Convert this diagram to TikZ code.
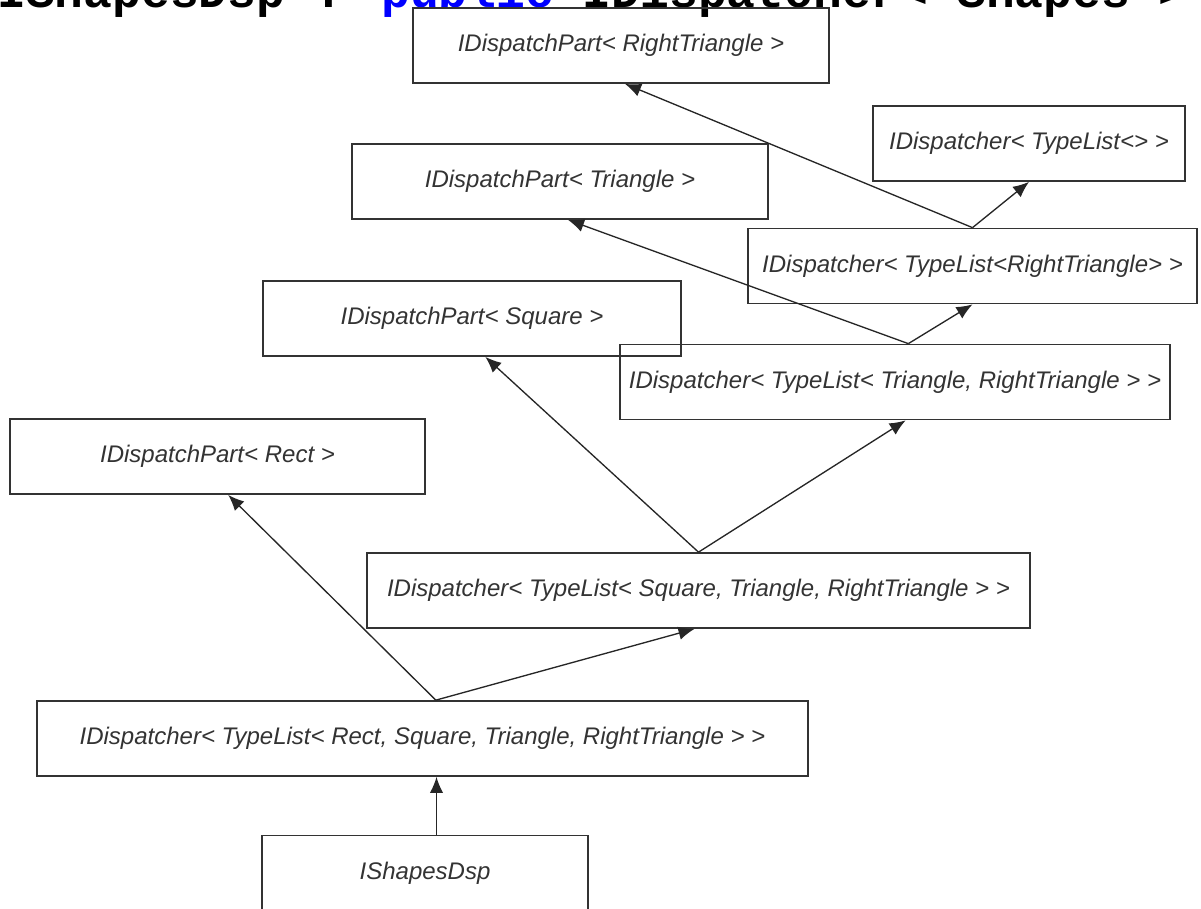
\documentclass[tikz,border=0pt]{standalone}
\usepackage{fontspec}
\setmainfont{Liberation Sans}
\newfontfamily\headfont{Liberation Mono}
\usepackage[svgnames]{xcolor}
\usetikzlibrary{arrows.meta}
\colorlet{boxLine}{black!80}
\colorlet{boxText}{black!80}
\colorlet{linkText}{Blue}

\begin{document}
\begin{tikzpicture}[
  x=0.75pt, y=-0.75pt,
  every class/.style={
    draw=boxLine,
    line width=1.3pt,
    text=boxText,
    minimum height=56.25pt,
    inner sep=0pt,
    font=\fontsize{18}{21}\selectfont\itshape
  },
  every base/.style={
    -{Latex[length=12pt,width=10pt]},
    line width=1pt,
    draw=black!85
  }
]
\useasboundingbox (0,0) rectangle (1201,908);
\begin{scope}
\clip (0,0) rectangle (1201,908);
\node[anchor=base west,inner sep=0pt,font=\headfont\bfseries\fontsize{36}{40}\selectfont] (head) at (-3,7.5)
  {IShapesDsp : \textcolor{linkText}{public} IDispatcher< Shapes >};
\end{scope}
\node[every class/.try,minimum width=312pt] (partRT) at (621,45.5) {IDispatchPart< RightTriangle >};
\node[every class/.try,minimum width=234pt] (dspNil) at (1029,143.5) {IDispatcher< TypeList<> >};
\node[every class/.try,minimum width=312pt] (partTri) at (560,181.5) {IDispatchPart< Triangle >};
\node[every class/.try,minimum width=336.75pt] (dspRT) at (972.5,266) {IDispatcher< TypeList<RightTriangle> >};
\node[every class/.try,minimum width=313.5pt] (partSq) at (472,318.5) {IDispatchPart< Square >};
\node[every class/.try,minimum width=412.5pt] (dspTri) at (895,382) {IDispatcher< TypeList< Triangle, RightTriangle > >};
\node[every class/.try,minimum width=311.25pt] (partRect) at (217.5,456.5) {IDispatchPart< Rect >};
\node[every class/.try,minimum width=497.25pt] (dspSq) at (698.5,590.5) {IDispatcher< TypeList< Square, Triangle, RightTriangle > >};
\node[every class/.try,minimum width=578.25pt] (dspRect) at (422.5,738.5) {IDispatcher< TypeList< Rect, Square, Triangle, RightTriangle > >};
\node[every class/.try,minimum width=244.5pt] (shapesDsp) at (425,873) {IShapesDsp};
\draw[every base/.try] (shapesDsp.north -| dspRect.north) ++(14,0) coordinate (j0) -- (j0 |- dspRect.south);
\draw[every base/.try] ([xshift=10pt]dspRect.north) -- ([xshift=8pt]partRect.south);
\draw[every base/.try] ([xshift=10pt]dspRect.north) -- ([xshift=-3pt]dspSq.south);
\draw[every base/.try] (dspSq.north) -- ([xshift=10pt]partSq.south);
\draw[every base/.try] (dspSq.north) -- ([xshift=8pt]dspTri.south);
\draw[every base/.try] ([xshift=10pt]dspTri.north) -- ([xshift=6pt]partTri.south);
\draw[every base/.try] ([xshift=10pt]dspTri.north) -- (dspRT.south);
\draw[every base/.try] (dspRT.north) -- ([xshift=3pt]partRT.south);
\draw[every base/.try] (dspRT.north) -- (dspNil.south);
\end{tikzpicture}
\end{document}
